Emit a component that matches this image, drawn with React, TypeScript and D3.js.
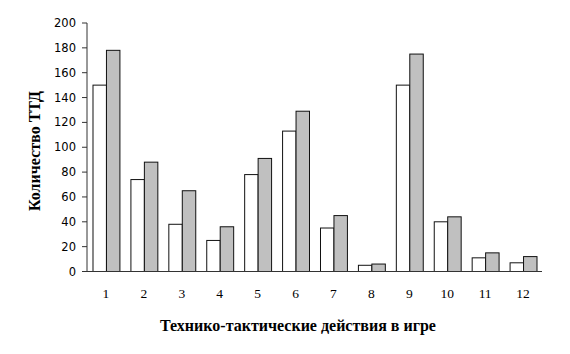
import React from "react";
import * as d3 from "d3";

const categories = ["1", "2", "3", "4", "5", "6", "7", "8", "9", "10", "11", "12"];
const seriesA = [150, 74, 38, 25, 78, 113, 35, 5, 150, 40, 11, 7];
const seriesB = [178, 88, 65, 36, 91, 129, 45, 6, 175, 44, 15, 12];
const yTicks = [0, 20, 40, 60, 80, 100, 120, 140, 160, 180, 200];

const W = 570;
const H = 354;
const left = 87;
const right = 542;
const top = 23;
const bottom = 271.5;

export default function App() {
  const x = d3.scaleBand<string>().domain(categories).range([left, right]).paddingInner(0.29).paddingOuter(0.145);
  const y = d3.scaleLinear().domain([0, 200]).range([bottom, top]);
  const bw = x.bandwidth() / 2;
  return (
    <svg width={W} height={H} style={{ position: "absolute", left: 0, top: 0 }}>
      <rect x={0} y={0} width={W} height={H} fill="#fff" />
      {categories.map((c, i) => (
        <g key={c}>
          <rect x={(x(c) as number) + 0.5} y={y(seriesA[i])} width={bw} height={bottom - y(seriesA[i])} fill="#fff" stroke="#111" strokeWidth={1} />
          <rect x={(x(c) as number) + bw + 0.5} y={y(seriesB[i])} width={bw} height={bottom - y(seriesB[i])} fill="#c0c0c0" stroke="#111" strokeWidth={1} />
          <text x={(x(c) as number) + x.bandwidth() / 2} y={298} textAnchor="middle" fontFamily="Liberation Serif" fontSize={13.5} fill="#000">{c}</text>
        </g>
      ))}
      <line x1={left} x2={left} y1={top} y2={bottom} stroke="#333" strokeWidth={1} />
      <line x1={left} x2={right} y1={bottom} y2={bottom} stroke="#333" strokeWidth={1} />
      {yTicks.map((t) => (
        <g key={t}>
          <line x1={left - 5} x2={left} y1={y(t)} y2={y(t)} stroke="#333" strokeWidth={1} />
          <text x={left - 11} y={y(t) + 4} textAnchor="end" fontFamily="DejaVu Sans" fontSize={11.5} fill="#000">{t}</text>
        </g>
      ))}
      <text x={298} y={331} textAnchor="middle" fontFamily="Liberation Serif" fontWeight="bold" fontSize={16} fill="#000">Технико-тактические действия в игре</text>
      <text transform={`translate(40,151) rotate(-90)`} textAnchor="middle" fontFamily="Liberation Serif" fontWeight="bold" fontSize={16} fill="#000">Количество ТТД</text>
    </svg>
  );
}
